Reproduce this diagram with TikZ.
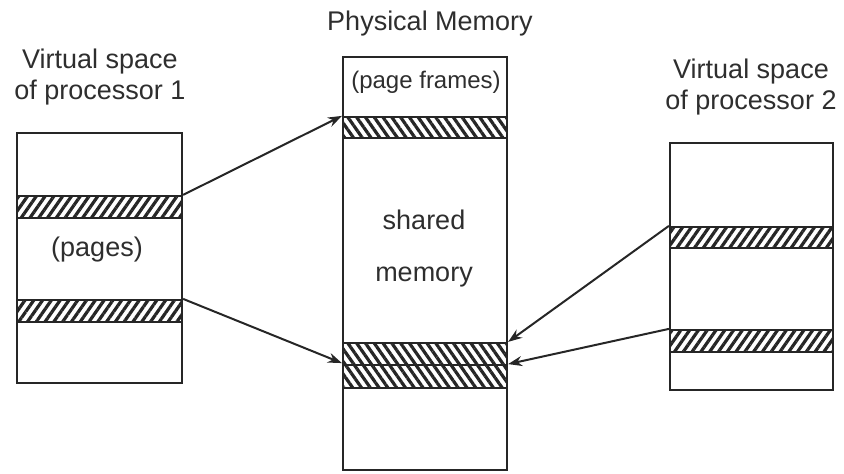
\documentclass[tikz,border=0pt]{standalone}
\usepackage{fontspec}
\setmainfont{Liberation Sans}
\usetikzlibrary{fit,patterns.meta,arrows.meta}
\definecolor{ink}{HTML}{262626}
\definecolor{txt}{HTML}{2e2e2e}
\begin{document}
\begin{tikzpicture}[x=0.5pt,y=-0.5pt,
  box/.style={draw=ink,line width=1.3pt,inner sep=0pt},
  hatchR/.style={draw=ink,line width=1.1pt,inner sep=0pt,fill=white,
    postaction={pattern={Lines[angle=55,distance=3.6pt,line width=1.6pt]},pattern color=ink}},
  hatchL/.style={draw=ink,line width=1.1pt,inner sep=0pt,fill=white,
    postaction={pattern={Lines[angle=-55,distance=3.6pt,line width=1.6pt]},pattern color=ink}},
  lbl/.style={text=txt,font=\fontsize{13.5}{15.5}\selectfont,align=center,inner sep=0pt},
  arr/.style={draw=ink,line width=1pt,-{Stealth[length=7pt,width=5pt]}}]
\useasboundingbox (0,0) rectangle (844,474);

% boxes
\node[box,fit={(17,133) (182,383)}] (L) {};
\node[box,fit={(343,57) (507,470)}] (M) {};
\node[box,fit={(670,143) (833,390)}] (R) {};

% stripes
\node[hatchR,fit={(17,196) (182,218)}] (L1) {};
\node[hatchR,fit={(17,300) (182,322)}] (L2) {};
\node[hatchL,fit={(343,117) (507,138)}] (MA) {};
\node[hatchL,fit={(343,343) (507,365)}] (MB) {};
\node[hatchL,fit={(343,365) (507,388)}] (MC) {};
\node[hatchR,fit={(670,227) (833,248)}] (R1) {};
\node[hatchR,fit={(670,330) (833,352)}] (R2) {};

% labels
\node[lbl] (t1) at (100,77) {Virtual space\\of processor 1};
\node[lbl] (t2) at (430,24) {Physical Memory};
\node[lbl] (t3) at (751,87) {Virtual space\\of processor 2};
\node[lbl,font=\fontsize{12}{14}\selectfont] (pf) at (426,82) {(page frames)};
\node[lbl] (pg) at (97,250) {(pages)};
\node[lbl] (sh) at (424,220) {shared};
\node[lbl] (mm) at (424,277) {memory};

% connectors
\draw[arr] (L1.north east) -- (MA.north west);
\draw[arr] (L2.north east) -- ([yshift=1.5pt]MB.south west);
\draw[arr] (R1.north west) -- (MB.north east);
\draw[arr] (R2.north west) -- ([yshift=1pt]MB.south east);
\end{tikzpicture}
\end{document}
